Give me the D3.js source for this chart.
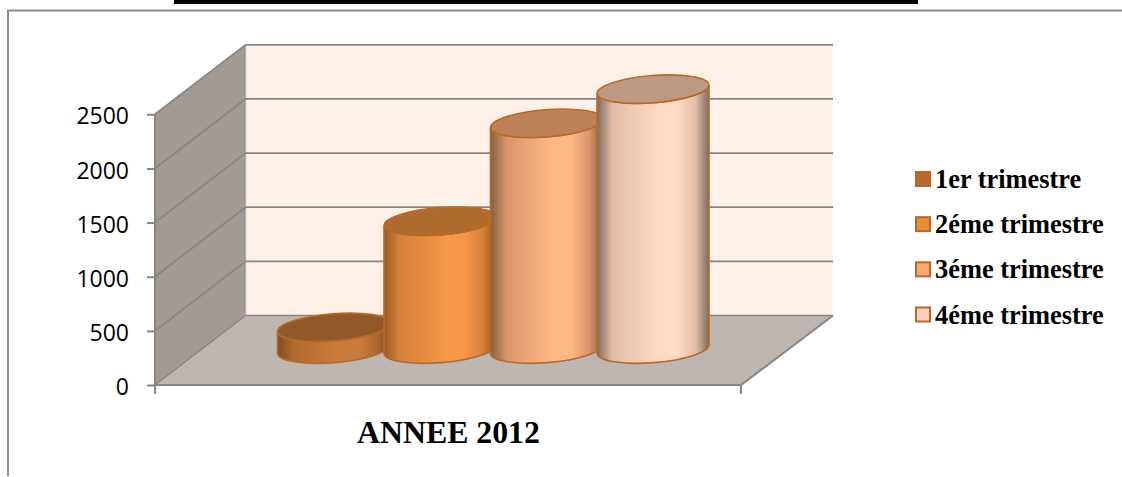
<!DOCTYPE html>
<html><head><meta charset="utf-8">
<script src="https://cdn.jsdelivr.net/npm/d3@7"></script>
<style>html,body{margin:0;padding:0;background:#fff;overflow:hidden}svg{display:block}</style>
</head><body><svg id="c" width="1122" height="477"></svg>
<script>
const seriesNames = ["1er trimestre","2éme trimestre","3éme trimestre","4éme trimestre"];
const seriesValues = [200,1180,2085,2400];
const yTicks = [0,500,1000,1500,2000,2500];
const categoryLabel = ["ANNEE 2012"];
const bodyLight = ["#cb7c3a","#f79646","#ffb783","#ffdbc3"];
const bodyDark = ["#7f4c20","#9a5a22","#85603f","#7d6a5e"];
const bodyMid = ["#b06a30","#d5813a","#d9946a","#e3bda6"];
const topFill = ["#91582a","#b06c2e","#bd8059","#be9a85"];
const legendFill = ["#b9692e","#ea8b3c","#f9a873","#fccfb8"];

const svg = d3.select("#c");
const GRID="#868686", EDGE="#b8692a";
const left=155,right=741,dx=90.5,dy=69.5;
const y=d3.scaleLinear().domain([0,2500]).range([385,114.3]);
const x=d3.scalePoint().domain(seriesNames).range([333.5,653]);
const cyOff=36,rx=56,ry=13.6,tilt=-4.5,lift=4.4;

// gradients
const defs=svg.append("defs");
seriesNames.forEach((s,i)=>{
  const g=defs.append("linearGradient").attr("id","g"+i);
  [[0,bodyDark[i]],[.14,bodyMid[i]],[.55,bodyLight[i]],[.72,bodyLight[i]],[.88,bodyMid[i]],[1,bodyDark[i]]]
    .forEach(([o,c])=>g.append("stop").attr("offset",o).attr("stop-color",c));
});

// chart frame and title band
svg.append("rect").attr("x",174).attr("y",0).attr("width",744).attr("height",4).attr("fill","#000");
svg.append("path").attr("d","M8,476V10.5H1122").attr("fill","none").attr("stroke","#8e8e8e").attr("stroke-width",2);

// walls and floor
svg.append("polygon").attr("fill","#fff0e8").attr("points",[[left+dx,y(2500)-dy],[833,y(2500)-dy],[833,y(0)-dy],[left+dx,y(0)-dy]].join(" "));
svg.append("polygon").attr("fill","#a39a94").attr("points",[[left,y(0)],[left+dx,y(0)-dy],[left+dx,y(2500)-dy],[left,y(2500)]].join(" "));
svg.append("polygon").attr("fill","#bfb5b1").attr("points",[[left,y(0)],[left+dx,y(0)-dy],[833,y(0)-dy],[right,y(0)]].join(" "));

// gridlines
svg.append("g").selectAll("path").data(yTicks).join("path")
  .attr("fill","none").attr("stroke",GRID).attr("stroke-width",d=>d===0?1.4:1.8)
  .attr("d",d=>`M${left},${y(d)}L${left+dx},${y(d)-dy}H833`);
svg.append("path").attr("fill","none").attr("stroke",GRID).attr("stroke-width",1.6)
  .attr("d",`M${left+dx},${y(2500)-dy}V${y(0)-dy}`).attr("opacity",.35);
svg.append("path").attr("fill","none").attr("stroke",GRID).attr("stroke-width",2)
  .attr("d",`M${right},${y(0)}L833,${y(0)-dy}`);

// y axis
const ax=svg.append("g").attr("transform",`translate(${left},0)`)
  .call(d3.axisLeft(y).tickValues(yTicks).tickFormat(d3.format("d")).tickSize(8).tickPadding(18));
ax.select(".domain").attr("stroke",GRID).attr("stroke-width",2).attr("d",`M0,${y(2500)}V${y(0)}`);
ax.selectAll("line").attr("stroke",GRID).attr("stroke-width",2);
ax.selectAll("text").attr("font-family","'Open Sans'").attr("font-size",23).attr("fill","#000").attr("dy","0.42em");

// x axis
svg.append("path").attr("fill","none").attr("stroke",GRID).attr("stroke-width",2)
  .attr("d",`M${left},${y(0)}H${right}M${left},${y(0)}v9M${right},${y(0)}v9`);
svg.append("text").text(categoryLabel[0]).attr("x",448.5).attr("y",443)
  .attr("text-anchor","middle").attr("font-family","'Liberation Serif'").attr("font-weight","bold").attr("font-size",31.8).attr("fill","#000");

// cylinders
const cyl=svg.append("g").selectAll("g").data(seriesValues).join("g");
const base=y(0)-cyOff;
cyl.append("path").attr("fill",(d,i)=>`url(#g${i})`).attr("stroke",EDGE).attr("stroke-width",1.6)
  .attr("d",(d,i)=>{
    const cx=x(seriesNames[i]),h=y(0)-y(d),t=base-h;
    return `M${cx-rx},${t+lift}V${base+lift}A${rx},${ry} ${tilt} 0 0 ${cx+rx},${base-lift}V${t-lift}A${rx},${ry} ${tilt} 0 1 ${cx-rx},${t+lift}Z`;
  });
cyl.append("ellipse").attr("fill",(d,i)=>topFill[i]).attr("stroke",EDGE).attr("stroke-width",1.6)
  .attr("rx",rx).attr("ry",ry)
  .attr("transform",(d,i)=>`translate(${x(seriesNames[i])},${base-(y(0)-y(d))}) rotate(${tilt})`);

// legend
const ly=d3.scalePoint().domain(seriesNames).range([179,314.5]);
const lg=svg.append("g").selectAll("g").data(seriesNames).join("g");
lg.append("rect").attr("x",916).attr("y",d=>ly(d)-7).attr("width",14).attr("height",14)
  .attr("fill",(d,i)=>legendFill[i]).attr("stroke",EDGE).attr("stroke-width",2);
lg.append("text").text(d=>d).attr("x",935).attr("y",d=>ly(d)+9)
  .attr("font-family","'Liberation Serif'").attr("font-weight","bold").attr("font-size",26.4).attr("fill","#000");
</script></body></html>
